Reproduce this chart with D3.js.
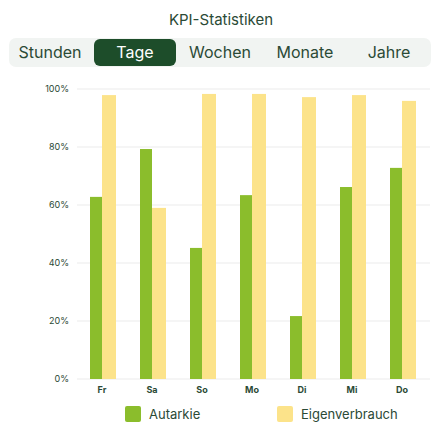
<!DOCTYPE html>
<html lang="de">
<head>
<meta charset="UTF-8">
<title>KPI-Statistiken</title>
<script src="https://d3js.org/d3.v7.min.js"></script>
<style>
  body { margin: 0; background: #fff; font-family: Inter, "Noto Sans", sans-serif; }
</style>
</head>
<body>
<div id="chart"></div>
<script>
const days = ["Fr", "Sa", "So", "Mo", "Di", "Mi", "Do"];
const autarkie = [62.8, 79.3, 45.2, 63.4, 21.7, 66.2, 72.8];
const eigenverbrauch = [97.9, 59.0, 98.3, 98.3, 97.2, 97.9, 95.9];
const yTicks = [0, 20, 40, 60, 80, 100];
const tabs = ["Stunden", "Tage", "Wochen", "Monate", "Jahre"];
const tabCenters = [50, 135, 220, 305, 389];

const W = 442, H = 443;
const svg = d3.select("#chart").append("svg").attr("width", W).attr("height", H);
const textCol = "#2b4a36";

svg.append("text").attr("x", 221).attr("y", 25).attr("text-anchor", "middle")
  .attr("font-size", 15).attr("fill", textCol).text("KPI-Statistiken");

// tabs
svg.append("rect").attr("x", 9).attr("y", 38).attr("width", 422).attr("height", 29)
  .attr("rx", 7).attr("fill", "#f1f4f2");
svg.append("rect").attr("x", 94).attr("y", 39).attr("width", 82).attr("height", 27)
  .attr("rx", 6).attr("fill", "#1d4d2a");
svg.selectAll(".tab").data(tabs).enter().append("text")
  .attr("x", (d, i) => tabCenters[i]).attr("y", 58).attr("text-anchor", "middle")
  .attr("font-size", 16).attr("fill", d => d === "Tage" ? "#fff" : textCol).text(d => d);

const y = d3.scaleLinear().domain([0, 100]).range([379, 89]);
const x = d3.scaleBand().domain(days).range([77, 427]);

svg.append("g").selectAll("line").data(yTicks).enter().append("line")
  .attr("x1", 77).attr("x2", 430).attr("y1", d => y(d)).attr("y2", d => y(d))
  .attr("stroke", "#ebebeb").attr("stroke-width", 1);

svg.append("g").selectAll("text").data(yTicks).enter().append("text")
  .attr("x", 69).attr("y", d => y(d) + 3).attr("text-anchor", "end")
  .attr("font-size", 9).attr("fill", textCol).text(d => d + "%");

const cx = d => x(d) + x.bandwidth() / 2;

svg.append("g").selectAll("rect").data(days).enter().append("rect")
  .attr("x", d => cx(d) - 12).attr("width", 12)
  .attr("y", (d, i) => y(autarkie[i])).attr("height", (d, i) => y(0) - y(autarkie[i]))
  .attr("fill", "#8bbd2c");
svg.append("g").selectAll("rect").data(days).enter().append("rect")
  .attr("x", d => cx(d)).attr("width", 14)
  .attr("y", (d, i) => y(eigenverbrauch[i])).attr("height", (d, i) => y(0) - y(eigenverbrauch[i]))
  .attr("fill", "#fce38a");

svg.append("g").selectAll("text").data(days).enter().append("text")
  .attr("x", d => cx(d)).attr("y", 393).attr("text-anchor", "middle")
  .attr("font-size", 9).attr("font-weight", "bold").attr("fill", textCol).text(d => d);

// legend
const legend = [["Autarkie", "#8bbd2c", 125], ["Eigenverbrauch", "#fce38a", 277]];
legend.forEach(([label, col, lx]) => {
  svg.append("rect").attr("x", lx).attr("y", 406).attr("width", 16).attr("height", 16)
    .attr("rx", 2).attr("fill", col);
  svg.append("text").attr("x", lx + 24).attr("y", 419).attr("font-size", 13)
    .attr("fill", textCol).text(label);
});
</script>
</body>
</html>
